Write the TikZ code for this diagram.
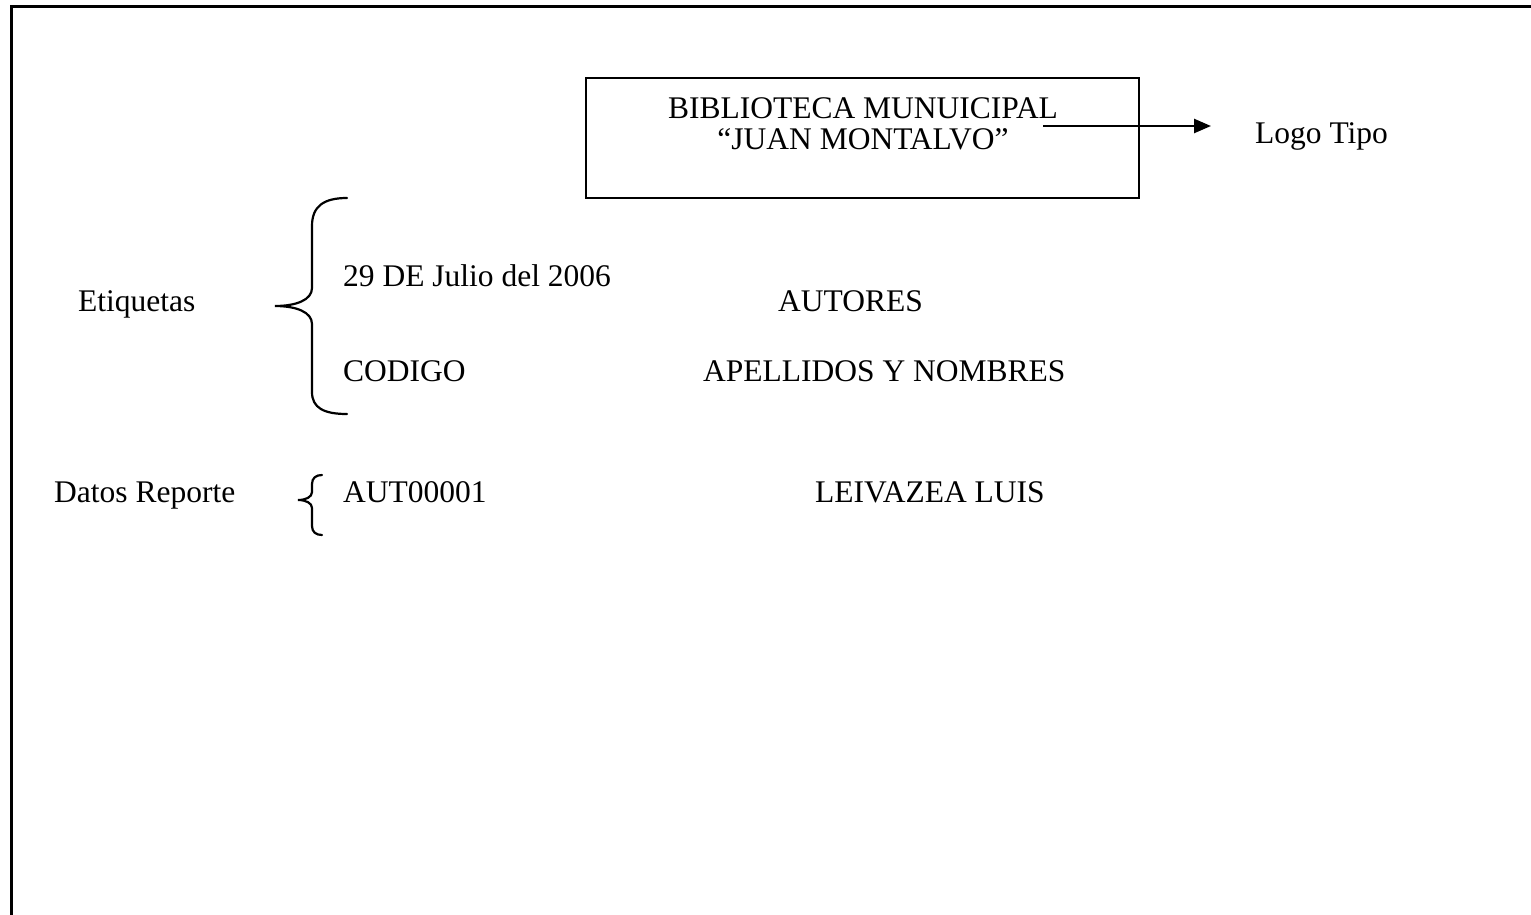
\documentclass[tikz,border=0pt]{standalone}
\usepackage{fontspec}
\setmainfont{Liberation Serif}
\usetikzlibrary{arrows.meta}
\begin{document}
\begin{tikzpicture}[x=1pt,y=-1pt,
  lbl/.style={inner sep=0pt,anchor=base west,font=\fontsize{31.5}{37}\selectfont},
  titlebox/.style={draw,line width=2pt,minimum width=553pt,minimum height=120pt,inner sep=0pt},
  brace/.style={line width=2.2pt,line cap=round},
  arr/.style={line width=2.5pt,-{Triangle[length=17pt,width=14pt]}}]
\useasboundingbox (0,0) rectangle (1531,914);
\clip (0,0) rectangle (1531,914);
% outer frame (only top and left edges visible)
\draw[line width=3pt] (11,930) -- (11,6) -- (1545,6);
% title box
\node[titlebox] (box) at (862.5,138) {};
\node[lbl,anchor=base] (t1) at (863,118) {BIBLIOTECA MUNUICIPAL};
\node[lbl,anchor=base] (t2) at (863,149) {“JUAN MONTALVO”};
\node[lbl] (logo) at (1255,143) {Logo Tipo};
\coordinate (as) at (1043,126);
\coordinate (ae) at (1211,126);
\draw[arr] (as) -- (ae);
% labels
\node[lbl] (etiq) at (78,311) {Etiquetas};
\node[lbl] (fecha) at (343,286) {29 DE Julio del 2006};
\node[lbl] (autores) at (778,311) {AUTORES};
\node[lbl] (codigo) at (343,381) {CODIGO};
\node[lbl] (apell) at (703,381) {APELLIDOS Y NOMBRES};
\node[lbl] (datos) at (54,502) {Datos Reporte};
\node[lbl] (aut) at (343,502) {AUT00001};
\node[lbl] (leiva) at (815,502) {LEIVAZEA LUIS};
% braces
\draw[brace] (347,198) .. controls (324,198) and (312,206) .. (312,226)
  -- (312,288) .. controls (312,300) and (296,306) .. (275,306)
  .. controls (296,306) and (312,312) .. (312,324)
  -- (312,392) .. controls (312,408) and (324,414) .. (347,414);
\draw[brace] (322,475) .. controls (316,475) and (312,478) .. (312,484)
  -- (312,492) .. controls (312,497) and (306,500) .. (298,500)
  .. controls (306,500) and (312,503) .. (312,508)
  -- (312,526) .. controls (312,532) and (316,535) .. (322,535);
\end{tikzpicture}
\end{document}
